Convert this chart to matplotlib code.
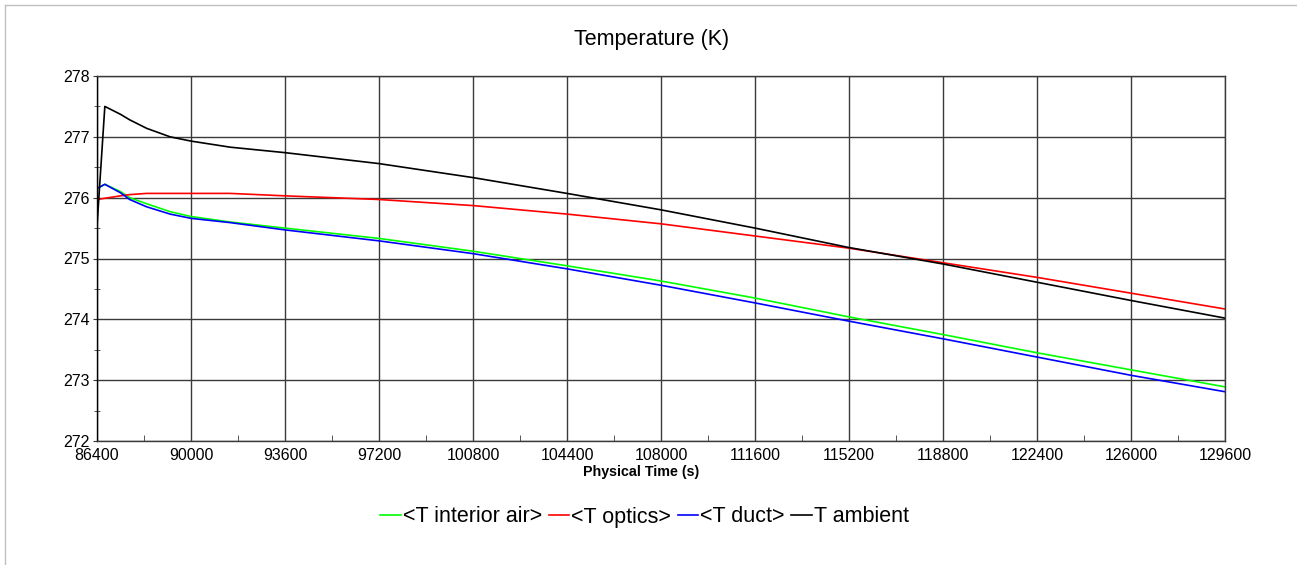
import numpy as np
import matplotlib
matplotlib.use('Agg')
import matplotlib.pyplot as plt
from matplotlib.ticker import MultipleLocator
from matplotlib.lines import Line2D

plt.rcParams['font.family'] = ['Liberation Sans', 'DejaVu Sans']

## Data
time = [86400, 86700, 87300, 87650, 88300, 89200, 90000, 91500, 93600, 97200,
        100800, 104400, 108000, 111600, 115200, 118800, 122400, 126000, 129600]

t_interior = [276.15, 276.22, 276.10, 276.00, 275.90, 275.77, 275.69, 275.60, 275.50, 275.33,
              275.12, 274.88, 274.63, 274.35, 274.04, 273.75, 273.45, 273.17, 272.89]
t_optics = [275.97, 275.99, 276.03, 276.05, 276.07, 276.07, 276.07, 276.07, 276.03, 275.97,
            275.87, 275.73, 275.57, 275.37, 275.17, 274.93, 274.69, 274.43, 274.17]
t_duct = [276.15, 276.22, 276.08, 275.97, 275.85, 275.73, 275.66, 275.59, 275.47, 275.29,
          275.08, 274.83, 274.56, 274.27, 273.97, 273.68, 273.38, 273.08, 272.81]
t_ambient = [275.53, 277.50, 277.37, 277.28, 277.14, 277.00, 276.93, 276.83, 276.74, 276.56,
             276.33, 276.07, 275.80, 275.50, 275.18, 274.91, 274.61, 274.31, 274.02]

xticks = list(range(86400, 129601, 3600))
yticks = [272, 273, 274, 275, 276, 277, 278]

W, H = 1297, 565
fig = plt.figure(figsize=(W / 100, H / 100), dpi=100)
ax = fig.add_axes([97 / W, 1 - 441 / H, (1225 - 97) / W, (441 - 76) / H])

ax.plot(time, t_interior, color='#00ff00', lw=1.2, label='<T interior air>')
ax.plot(time, t_optics, color='#ff0000', lw=1.2, label='<T optics>')
ax.plot(time, t_duct, color='#0000ff', lw=1.2, label='<T duct>')
ax.plot(time, t_ambient, color='#000000', lw=1.2, label='T ambient')

ax.set_xlim(86400, 129600)
ax.set_ylim(272, 278)
ax.set_xticks(xticks)
ax.set_yticks(yticks)
ax.xaxis.set_minor_locator(MultipleLocator(1800))
ax.yaxis.set_minor_locator(MultipleLocator(0.5))
ax.grid(True, which='major', color='#3a3a3a', lw=1.0)
ax.set_axisbelow(True)
for s in ax.spines.values():
    s.set_color('#3a3a3a')
    s.set_linewidth(1.0)
ax.spines['left'].set_color('black')

ax.tick_params(axis='x', which='major', length=0, pad=5, labelsize=11.5)
ax.tick_params(axis='y', which='major', length=3, pad=2, labelsize=11.5, color='#3a3a3a')
ax.tick_params(which='minor', direction='inout', length=5, color='#3a3a3a')
ax.tick_params(axis='x', which='minor', direction='in', length=4)

fig.text(651.5 / W, 1 - 40 / H, 'Temperature (K)', ha='center', va='center', fontsize=15.5)
fig.text(641.5 / W, 1 - 472 / H, 'Physical Time (s)', ha='center', va='center',
         fontsize=10.3, fontweight='bold')

fig.legend(loc='center', bbox_to_anchor=(644.5 / W, 1 - 517 / H), ncol=4, frameon=False,
           fontsize=15.5, handlelength=0.95, handletextpad=0.1, columnspacing=0.3,
           borderpad=0, borderaxespad=0)

# light frame round the picture (left and top only)
fig.add_artist(Line2D([5 / W, 5 / W], [0, 1 - 5 / H], transform=fig.transFigure,
                      color='#c0c0c0', lw=1.0))
fig.add_artist(Line2D([5 / W, 1], [1 - 5 / H, 1 - 5 / H], transform=fig.transFigure,
                      color='#c0c0c0', lw=1.0))

fig.savefig('out.png', dpi=100)
